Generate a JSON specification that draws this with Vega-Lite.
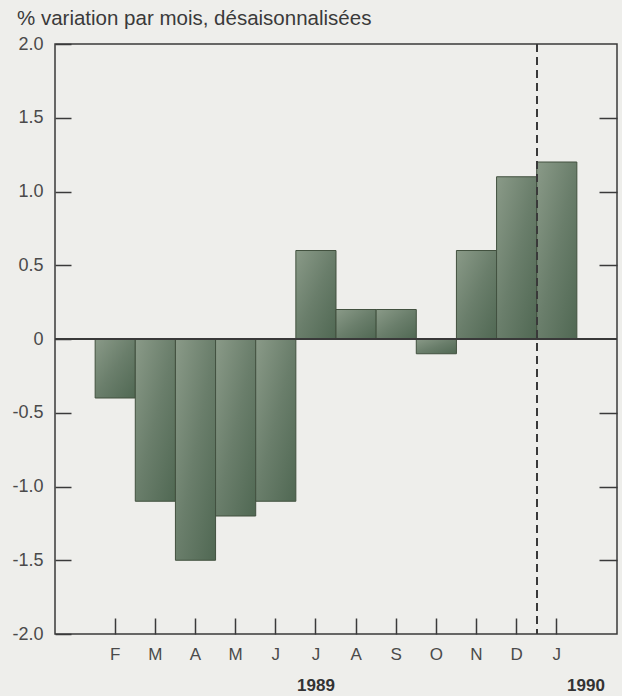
{
  "$schema": "https://vega.github.io/schema/vega-lite/v6.json",
  "width": 562,
  "height": 590,
  "autosize": {"type": "none"},
  "padding": {"left": 55, "top": 44, "right": 5, "bottom": 62},
  "background": "#eeeeeb",
  "title": {
    "text": "% variation par mois, désaisonnalisées",
    "anchor": "start",
    "orient": "top",
    "frame": "group",
    "offset": 6,
    "dx": -38,
    "font": "Liberation Sans",
    "fontSize": 20.5,
    "fontWeight": "normal",
    "color": "#3a3a3a"
  },
  "data": {
    "values": [
      {"mois": "1989-02", "valeur": -0.4},
      {"mois": "1989-03", "valeur": -1.1},
      {"mois": "1989-04", "valeur": -1.5},
      {"mois": "1989-05", "valeur": -1.2},
      {"mois": "1989-06", "valeur": -1.1},
      {"mois": "1989-07", "valeur": 0.6},
      {"mois": "1989-08", "valeur": 0.2},
      {"mois": "1989-09", "valeur": 0.2},
      {"mois": "1989-10", "valeur": -0.1},
      {"mois": "1989-11", "valeur": 0.6},
      {"mois": "1989-12", "valeur": 1.1},
      {"mois": "1990-01", "valeur": 1.2}
    ]
  },
  "layer": [
    {
      "mark": {
        "type": "bar",
        "stroke": "#42513f",
        "strokeWidth": 1,
        "color": {
          "gradient": "linear",
          "x1": 0, "y1": 0, "x2": 1, "y2": 1,
          "stops": [
            {"offset": 0, "color": "#8a9a88"},
            {"offset": 0.5, "color": "#6a7e6b"},
            {"offset": 1, "color": "#506853"}
          ]
        }
      },
      "encoding": {
        "x": {
          "field": "mois",
          "type": "ordinal",
          "scale": {
            "domain": ["1989-01", "1989-02", "1989-03", "1989-04", "1989-05", "1989-06", "1989-07", "1989-08", "1989-09", "1989-10", "1989-11", "1989-12", "1990-01", "1990-02"],
            "paddingInner": 0,
            "paddingOuter": 0
          },
          "axis": {
            "title": null,
            "values": ["1989-02", "1989-03", "1989-04", "1989-05", "1989-06", "1989-07", "1989-08", "1989-09", "1989-10", "1989-11", "1989-12", "1990-01"],
            "labelExpr": "{'1989-02':'F','1989-03':'M','1989-04':'A','1989-05':'M','1989-06':'J','1989-07':'J','1989-08':'A','1989-09':'S','1989-10':'O','1989-11':'N','1989-12':'D','1990-01':'J'}[datum.value]",
            "labelAngle": 0,
            "domain": false,
            "tickSize": -16,
            "tickWidth": 1.5,
            "tickColor": "#3a3a3a",
            "labelPadding": 28,
            "labelFont": "Liberation Sans",
            "labelFontSize": 17,
            "labelColor": "#4a4a4a"
          }
        },
        "y": {
          "field": "valeur",
          "type": "quantitative",
          "scale": {"domain": [-2, 2], "nice": false, "zero": true},
          "axis": {
            "title": null,
            "orient": "left",
            "values": [-2, -1.5, -1, -0.5, 0, 0.5, 1, 1.5, 2],
            "labelExpr": "datum.value == 0 ? '0' : replace(format(datum.value, '.1f'), '\u2212', '-')",
            "grid": false,
            "domain": false,
            "tickSize": -16,
            "tickWidth": 1.5,
            "tickColor": "#3a3a3a",
            "labelPadding": 28,
            "labelFont": "Liberation Sans",
            "labelFontSize": 18,
            "labelColor": "#4a4a4a"
          }
        }
      }
    },
    {
      "mark": {"type": "rule", "color": "#3a3a3a", "strokeWidth": 1.5},
      "encoding": {
        "y": {
          "datum": 0,
          "type": "quantitative",
          "axis": {
            "title": null,
            "orient": "right",
            "values": [-1.5, -1, -0.5, 0.5, 1, 1.5],
            "labels": false,
            "grid": false,
            "domain": false,
            "tickSize": -18,
            "tickWidth": 1.5,
            "tickColor": "#3a3a3a"
          }
        }
      }
    },
    {
      "mark": {"type": "rule", "color": "#3a3a3a", "strokeWidth": 1.3, "strokeDash": [8, 5]},
      "encoding": {
        "x": {
          "datum": "1990-01",
          "type": "ordinal",
          "bandPosition": 0,
          "axis": {
            "title": null,
            "orient": "bottom",
            "values": ["1989-07", "1990-02"],
            "labelExpr": "datum.value == '1989-07' ? '1989' : '1990'",
            "labelOffset": {"condition": {"test": "datum.value == '1990-02'", "value": -11}, "value": 0},
            "labelAngle": 0,
            "ticks": false,
            "domain": false,
            "labelPadding": 43,
            "labelFont": "Liberation Sans",
            "labelFontSize": 17,
            "labelFontWeight": "bold",
            "labelColor": "#333333"
          }
        }
      }
    }
  ],
  "resolve": {"axis": {"x": "independent", "y": "independent"}},
  "config": {
    "view": {"stroke": "#3a3a3a", "strokeWidth": 1.5}
  }
}
